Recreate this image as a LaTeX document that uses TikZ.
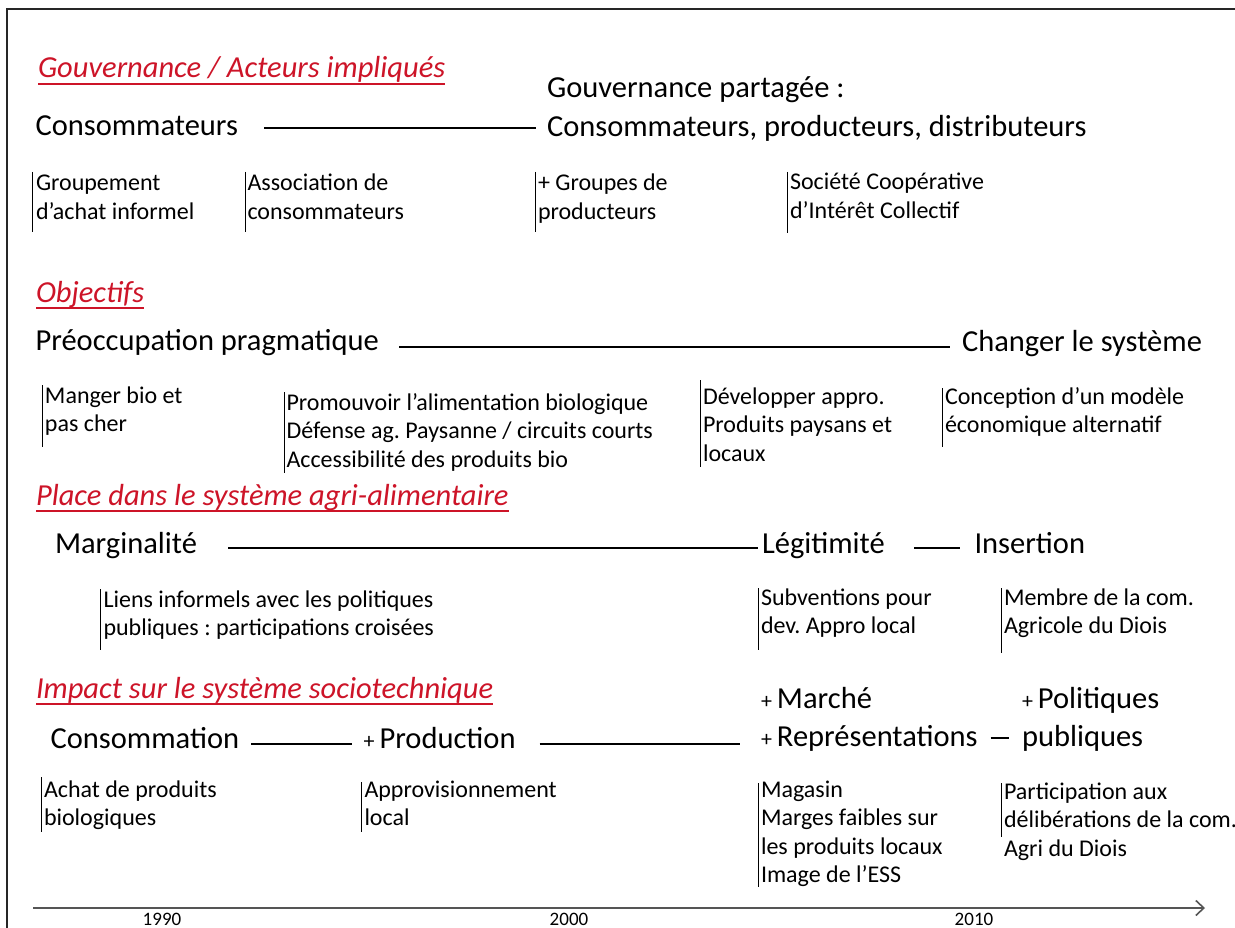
\documentclass[tikz,border=0pt]{standalone}
\usepackage{fontspec}
\setmainfont{Carlito}
\usetikzlibrary{arrows.meta}
\definecolor{titlered}{RGB}{205,20,40}
\definecolor{axisgray}{RGB}{85,85,85}
\frenchspacing
\newcommand\mylines[1]{\begin{tabular}[t]{@{}l@{}}#1\end{tabular}}
\newcommand\myplus{{\fontsize{22}{26}\selectfont+}\hspace{5pt}}
\begin{document}
\begin{tikzpicture}[x=1pt,y=-1pt,
  every node/.style={inner sep=0pt, outer sep=0pt, anchor=base west},
  heading/.style={font=\fontsize{30.5}{37}\selectfont\itshape, text=titlered},
  big/.style={font=\fontsize{30.5}{38.5}\selectfont},
  small/.style={font=\fontsize{24}{28.5}\selectfont},
  year/.style={font=\fontsize{19}{22}\selectfont, anchor=base},
  conn/.style={draw=black, line width=1.2pt},
  bar/.style={draw=black, line width=0.9pt},
  uline/.style={draw=titlered, line width=1.6pt},
  axis/.style={draw=axisgray, line width=2pt, -{Straight Barb[length=8pt,width=15pt,line width=1.6pt]}}]
\useasboundingbox (0,0) rectangle (1235,928);
\fill[white] (0,0) rectangle (1235,928);
% frame
\draw[line width=2pt, black!85] (7,930) -- (7,9) -- (1237,9);

% ---------- Section 1
\node[heading] (h1) at (38,78) {Gouvernance / Acteurs impliqués};
\draw[uline] ([yshift=-6pt]h1.base west) -- ([yshift=-6pt]h1.base east);
\node[big] (cons) at (35.5,136) {Consommateurs};
\node[big] (gp) at (547,98) {\mylines{Gouvernance partagée :\\Consommateurs, producteurs, distributeurs}};
\coordinate (l1a) at (264,128);
\coordinate (l1b) at (535.5,128);
\draw[conn] (l1a) -- (l1b);
\node[small] (n11) at (36,191) {\mylines{Groupement\\d’achat informel}};
\draw[bar] (32.5,172) -- (32.5,232);
\node[small] (n12) at (247.5,191) {\mylines{Association de\\consommateurs}};
\draw[bar] (245,172) -- (245,232);
\node[small] (n13) at (538,191) {\mylines{+ Groupes de\\producteurs}};
\draw[bar] (535.6,172) -- (535.6,232);
\node[small] (n14) at (790,190) {\mylines{Société Coopérative\\d’Intérêt Collectif}};
\draw[bar] (787.5,172) -- (787.5,233);

% ---------- Section 2
\node[heading] (h2) at (36,302) {Objectifs};
\draw[uline] ([yshift=-6pt]h2.base west) -- ([yshift=-6pt]h2.base east);
\node[big] (preo) at (35.5,350) {Préoccupation pragmatique};
\coordinate (l2a) at (399,347);
\coordinate (l2b) at (950,347);
\draw[conn] (l2a) -- (l2b);
\node[big] (chg) at (962,351) {Changer le système};
\node[small] (n21) at (45,403) {\mylines{Manger bio et\\pas cher}};
\draw[bar] (42.3,385) -- (42.3,447);
\node[small] (n22) at (286.5,410) {\mylines{Promouvoir l’alimentation biologique\\Défense ag. Paysanne / circuits courts\\Accessibilité des produits bio}};
\draw[bar] (284,392) -- (284,473);
\node[small] (n23) at (703,404) {\mylines{Développer appro.\\Produits paysans et\\locaux}};
\draw[bar] (700,380) -- (700,467);
\node[small] (n24) at (945,404) {\mylines{Conception d’un modèle\\économique alternatif}};
\draw[bar] (942,388) -- (942,447);

% ---------- Section 3
\node[heading] (h3) at (36,505) {Place dans le système agri-alimentaire};
\draw[uline] ([yshift=-6pt]h3.base west) -- ([yshift=-6pt]h3.base east);
\node[big] (marg) at (55,553) {Marginalité};
\coordinate (l3a) at (228,548);
\coordinate (l3b) at (758,548);
\draw[conn] (l3a) -- (l3b);
\node[big] (legit) at (762,553) {Légitimité};
\coordinate (l3c) at (914,548);
\coordinate (l3d) at (960,548);
\draw[conn] (l3c) -- (l3d);
\node[big] (ins) at (974.5,553) {Insertion};
\node[small] (n31) at (103.5,607) {\mylines{Liens informels avec les politiques\\publiques : participations croisées}};
\draw[bar] (100.8,589) -- (100.8,650);
\node[small] (n32) at (761,605) {\mylines{Subventions pour\\dev. Appro local}};
\draw[bar] (758.7,588) -- (758.7,650);
\node[small] (n33) at (1004,605) {\mylines{Membre de la com.\\Agricole du Diois}};
\draw[bar] (1001,588) -- (1001,653);

% ---------- Section 4
\node[heading] (h4) at (36,698) {Impact sur le système sociotechnique};
\draw[uline] ([yshift=-6pt]h4.base west) -- ([yshift=-6pt]h4.base east);
\node[big] (conso) at (50.6,748) {Consommation};
\coordinate (l4a) at (251,744);
\coordinate (l4b) at (352,744);
\draw[conn] (l4a) -- (l4b);
\node[big] (prod) at (363.6,748) {\myplus Production};
\coordinate (l4c) at (539.5,744);
\coordinate (l4d) at (740,744);
\draw[conn] (l4c) -- (l4d);
\node[big] (mar) at (761,708) {\mylines{\myplus Marché\\\myplus Représentations}};
\coordinate (l4e) at (990.7,738);
\coordinate (l4f) at (1009,738);
\draw[conn] (l4e) -- (l4f);
\node[big] (pol) at (1022,708) {\mylines{\myplus Politiques\\publiques}};
\node[small] (n41) at (44,797) {\mylines{Achat de produits\\biologiques}};
\draw[bar] (41.5,777) -- (41.5,832);
\node[small] (n42) at (364.5,797) {\mylines{Approvisionnement\\local}};
\draw[bar] (361.7,782) -- (361.7,832);
\node[small] (n43) at (761,797) {\mylines{Magasin\\Marges faibles sur\\les produits locaux\\Image de l’ESS}};
\draw[bar] (758,783) -- (758,887);
\node[small] (n44) at (1004,799) {\mylines{Participation aux\\délibérations de la com.\\Agri du Diois}};
\draw[bar] (1001,783) -- (1001,837);

% ---------- time axis
\coordinate (ax0) at (33,908);
\coordinate (ax1) at (1205,908);
\draw[axis] (ax0) -- (ax1);
\node[year] (y1) at (162,925) {1990};
\node[year] (y2) at (569,925) {2000};
\node[year] (y3) at (974,925) {2010};
\end{tikzpicture}
\end{document}
